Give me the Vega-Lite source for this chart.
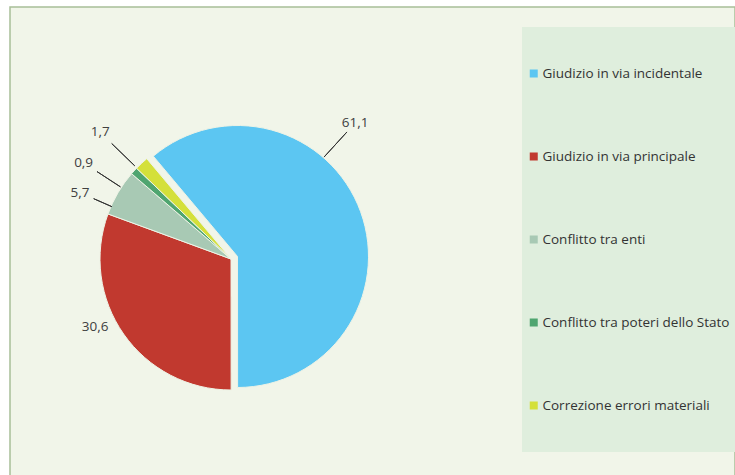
{
  "$schema": "https://vega.github.io/schema/vega-lite/v6.json",
  "width": 725,
  "height": 480,
  "autosize": {"type": "none"},
  "padding": {"left": 10, "top": 7, "right": 0, "bottom": 0},
  "background": "white",
  "view": {"fill": "#f1f5e9", "stroke": "#a8be98", "strokeWidth": 1.5},
  "data": {"values": [
    {"categoria": "Giudizio in via incidentale", "valore": 61.1, "etichetta": "61,1"},
    {"categoria": "Giudizio in via principale", "valore": 30.6, "etichetta": "30,6"},
    {"categoria": "Conflitto tra enti", "valore": 5.7, "etichetta": "5,7"},
    {"categoria": "Conflitto tra poteri dello Stato", "valore": 0.9, "etichetta": "0,9"},
    {"categoria": "Correzione errori materiali", "valore": 1.7, "etichetta": "1,7"}
  ]},
  "transform": [{"stack": "valore", "groupby": [], "as": ["v0", "v1"]}],
  "layer": [
    {
      "transform": [{"filter": "datum.categoria != 'Giudizio in via incidentale'"}],
      "mark": {"type": "arc", "outerRadius": 131, "xOffset": -141.5, "yOffset": 12, "stroke": "#eef3e6", "strokeWidth": 1},
      "encoding": {
        "theta": {"field": "v0", "type": "quantitative", "scale": {"domain": [0, 100], "range": [5.585, 11.868]}},
        "theta2": {"field": "v1"},
        "color": {
          "field": "categoria", "type": "nominal",
          "scale": {
            "domain": ["Giudizio in via incidentale", "Giudizio in via principale", "Conflitto tra enti", "Conflitto tra poteri dello Stato", "Correzione errori materiali"],
            "range": ["#5cc6f2", "#c1392f", "#a8c9b4", "#4fa570", "#d4e03a"]
          },
          "legend": {
            "orient": "none", "legendX": 512, "legendY": 20, "title": null,
            "fillColor": "#dfeedd", "padding": 5, "clipHeight": 83, "rowPadding": 0,
            "symbolType": "square", "symbolSize": 64, "symbolStrokeWidth": 0,
            "labelFont": "Open Sans", "labelFontSize": 13.5, "labelColor": "#333333",
            "labelLimit": 300, "labelOffset": 2
          }
        }
      }
    },
    {
      "transform": [{"filter": "datum.categoria == 'Giudizio in via incidentale'"}],
      "mark": {"type": "arc", "outerRadius": 131, "xOffset": -135, "yOffset": 9.5, "stroke": "#eef3e6", "strokeWidth": 1},
      "encoding": {
        "theta": {"field": "v0", "type": "quantitative"},
        "theta2": {"field": "v1"},
        "color": {"field": "categoria", "type": "nominal"}
      }
    },
    {
      "transform": [{"filter": "datum.categoria == 'Giudizio in via incidentale'"}],
      "layer": [
        {"mark": {"type": "arc", "innerRadius": 138, "outerRadius": 172, "thetaOffset": 1.438, "theta2Offset": 1.438, "xOffset": -141.5, "yOffset": 12, "stroke": "#333333", "strokeWidth": 1, "fill": null},
         "encoding": {"theta": {"field": "v0", "type": "quantitative"}, "theta2": {"field": "v0"}}},
        {"mark": {"type": "text", "radius": 184, "thetaOffset": 1.438, "xOffset": -141.5, "yOffset": 12, "font": "Open Sans", "fontSize": 13.5, "color": "#404040"},
         "encoding": {"theta": {"field": "v0", "type": "quantitative"}, "text": {"field": "etichetta"}}}
      ]
    },
    {
      "transform": [{"filter": "datum.categoria == 'Giudizio in via principale'"}],
      "layer": [
        {"mark": {"type": "text", "radius": 152, "thetaOffset": 1.107, "xOffset": -141.5, "yOffset": 12, "font": "Open Sans", "fontSize": 13.5, "color": "#404040"},
         "encoding": {"theta": {"field": "v0", "type": "quantitative"}, "text": {"field": "etichetta"}}}
      ]
    },
    {
      "transform": [{"filter": "datum.categoria == 'Conflitto tra enti'"}],
      "layer": [
        {"mark": {"type": "arc", "innerRadius": 130, "outerRadius": 150, "thetaOffset": 0.063, "theta2Offset": 0.063, "xOffset": -141.5, "yOffset": 12, "stroke": "#333333", "strokeWidth": 1, "fill": null},
         "encoding": {"theta": {"field": "v0", "type": "quantitative"}, "theta2": {"field": "v0"}}},
        {"mark": {"type": "text", "radius": 165, "thetaOffset": 0.063, "xOffset": -141.5, "yOffset": 12, "font": "Open Sans", "fontSize": 13.5, "color": "#404040"},
         "encoding": {"theta": {"field": "v0", "type": "quantitative"}, "text": {"field": "etichetta"}}}
      ]
    },
    {
      "transform": [{"filter": "datum.categoria == 'Conflitto tra poteri dello Stato'"}],
      "layer": [
        {"mark": {"type": "arc", "innerRadius": 132, "outerRadius": 160, "thetaOffset": -0.131, "theta2Offset": -0.131, "xOffset": -141.5, "yOffset": 12, "stroke": "#333333", "strokeWidth": 1, "fill": null},
         "encoding": {"theta": {"field": "v0", "type": "quantitative"}, "theta2": {"field": "v0"}}},
        {"mark": {"type": "text", "radius": 176, "thetaOffset": -0.131, "xOffset": -141.5, "yOffset": 12, "font": "Open Sans", "fontSize": 13.5, "color": "#404040"},
         "encoding": {"theta": {"field": "v0", "type": "quantitative"}, "text": {"field": "etichetta"}}}
      ]
    },
    {
      "transform": [{"filter": "datum.categoria == 'Correzione errori materiali'"}],
      "layer": [
        {"mark": {"type": "arc", "innerRadius": 134, "outerRadius": 166, "thetaOffset": 0.0035, "theta2Offset": 0.0035, "xOffset": -141.5, "yOffset": 12, "stroke": "#333333", "strokeWidth": 1, "fill": null},
         "encoding": {"theta": {"field": "v0", "type": "quantitative"}, "theta2": {"field": "v0"}}},
        {"mark": {"type": "text", "radius": 182, "thetaOffset": 0.0035, "xOffset": -141.5, "yOffset": 12, "font": "Open Sans", "fontSize": 13.5, "color": "#404040"},
         "encoding": {"theta": {"field": "v0", "type": "quantitative"}, "text": {"field": "etichetta"}}}
      ]
    }
  ]
}
